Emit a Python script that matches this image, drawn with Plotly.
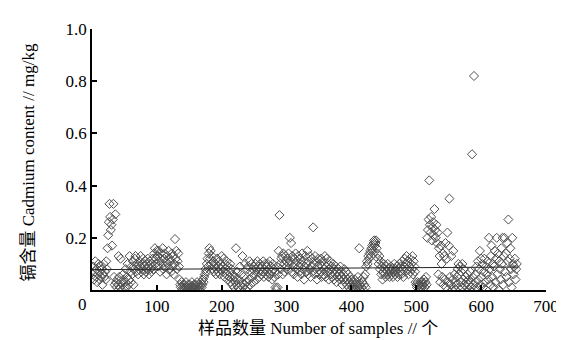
import plotly.graph_objects as go

# Cadmium content (mg/kg) per sample, samples 1..655
cd_001_050 = [0.06, 0.09, 0.04, 0.07, 0.11, 0.05, 0.08, 0.03, 0.06, 0.10,
              0.07, 0.04, 0.09, 0.05, 0.08, 0.02, 0.06, 0.10, 0.05, 0.07,
              0.04, 0.11, 0.08, 0.16, 0.21, 0.26, 0.33, 0.28, 0.23, 0.25,
              0.17, 0.27, 0.33, 0.05, 0.02, 0.29, 0.03, 0.01, 0.04, 0.02,
              0.13, 0.05, 0.01, 0.12, 0.03, 0.00, 0.02, 0.06, 0.04, 0.01]
cd_051_100 = [0.03, 0.08, 0.01, 0.05, 0.10, 0.02, 0.04, 0.13, 0.07, 0.03,
              0.09, 0.06, 0.11, 0.02, 0.08, 0.12, 0.13, 0.07, 0.10, 0.09,
              0.06, 0.08, 0.11, 0.09, 0.13, 0.07, 0.10, 0.08, 0.12, 0.06,
              0.09, 0.11, 0.07, 0.10, 0.08, 0.12, 0.09, 0.06, 0.11, 0.08,
              0.10, 0.07, 0.09, 0.12, 0.08, 0.14, 0.16, 0.10, 0.12, 0.15]
cd_101_150 = [0.13, 0.09, 0.15, 0.11, 0.07, 0.14, 0.12, 0.10, 0.16, 0.08,
              0.12, 0.14, 0.09, 0.11, 0.06, 0.13, 0.10, 0.15, 0.08, 0.12,
              0.11, 0.07, 0.14, 0.09, 0.13, 0.06, 0.10, 0.195, 0.12, 0.15,
              0.08, 0.11, 0.14, 0.09, 0.04, 0.02, 0.01, 0.03, 0.00, 0.02,
              0.01, 0.00, 0.02, 0.01, 0.03, 0.00, 0.01, 0.02, 0.00, 0.01]
cd_151_200 = [0.02, 0.00, 0.01, 0.03, 0.01, 0.00, 0.02, 0.01, 0.00, 0.02,
              0.01, 0.03, 0.00, 0.02, 0.01, 0.00, 0.02, 0.03, 0.01, 0.02,
              0.04, 0.03, 0.05, 0.06, 0.08, 0.07, 0.10, 0.12, 0.09, 0.14,
              0.16, 0.12, 0.15, 0.10, 0.13, 0.08, 0.11, 0.07, 0.09, 0.10,
              0.06, 0.08, 0.12, 0.07, 0.09, 0.11, 0.06, 0.10, 0.08, 0.13]
cd_201_250 = [0.09, 0.07, 0.12, 0.05, 0.10, 0.08, 0.06, 0.11, 0.04, 0.09,
              0.07, 0.05, 0.10, 0.03, 0.08, 0.02, 0.06, 0.04, 0.01, 0.05,
              0.03, 0.16, 0.02, 0.07, 0.01, 0.04, 0.00, 0.09, 0.02, 0.06,
              0.03, 0.13, 0.01, 0.05, 0.02, 0.10, 0.00, 0.03, 0.08, 0.01,
              0.09, 0.04, 0.11, 0.02, 0.07, 0.10, 0.05, 0.08, 0.03, 0.09]
cd_251_300 = [0.06, 0.10, 0.08, 0.04, 0.11, 0.07, 0.09, 0.05, 0.10, 0.08,
              0.06, 0.09, 0.07, 0.11, 0.05, 0.08, 0.10, 0.06, 0.09, 0.07,
              0.10, 0.05, 0.08, 0.11, 0.06, 0.09, 0.07, 0.04, 0.10, 0.08,
              0.05, 0.07, 0.01, 0.00, 0.09, 0.01, 0.06, 0.15, 0.287, 0.10,
              0.08, 0.12, 0.13, 0.06, 0.14, 0.10, 0.07, 0.13, 0.11, 0.09]
cd_301_350 = [0.12, 0.08, 0.14, 0.10, 0.20, 0.11, 0.18, 0.07, 0.13, 0.09,
              0.06, 0.12, 0.10, 0.14, 0.08, 0.11, 0.05, 0.13, 0.09, 0.07,
              0.12, 0.10, 0.06, 0.14, 0.08, 0.11, 0.04, 0.09, 0.13, 0.07,
              0.10, 0.15, 0.06, 0.11, 0.08, 0.13, 0.05, 0.09, 0.12, 0.07,
              0.24, 0.10, 0.06, 0.13, 0.08, 0.11, 0.04, 0.09, 0.12, 0.06]
cd_351_400 = [0.10, 0.07, 0.12, 0.05, 0.09, 0.11, 0.06, 0.08, 0.13, 0.05,
              0.09, 0.12, 0.07, 0.10, 0.04, 0.08, 0.11, 0.06, 0.09, 0.05,
              0.07, 0.10, 0.04, 0.08, 0.06, 0.09, 0.03, 0.07, 0.05, 0.08,
              0.06, 0.04, 0.09, 0.05, 0.07, 0.02, 0.06, 0.04, 0.08, 0.03,
              0.05, 0.07, 0.02, 0.04, 0.06, 0.01, 0.03, 0.05, 0.02, 0.04]
cd_401_450 = [0.01, 0.03, 0.00, 0.02, 0.04, 0.01, 0.00, 0.03, 0.02, 0.05,
              0.01, 0.16, 0.00, 0.02, 0.04, 0.01, 0.03, 0.00, 0.05, 0.02,
              0.06, 0.01, 0.09, 0.11, 0.10, 0.13, 0.12, 0.14, 0.15, 0.13,
              0.16, 0.17, 0.15, 0.18, 0.19, 0.17, 0.18, 0.19, 0.16, 0.14,
              0.12, 0.10, 0.13, 0.08, 0.11, 0.06, 0.09, 0.04, 0.07, 0.10]
cd_451_500 = [0.06, 0.08, 0.05, 0.09, 0.07, 0.10, 0.06, 0.08, 0.05, 0.07,
              0.09, 0.06, 0.08, 0.05, 0.07, 0.10, 0.06, 0.08, 0.07, 0.09,
              0.05, 0.08, 0.06, 0.10, 0.07, 0.09, 0.06, 0.11, 0.08, 0.05,
              0.09, 0.12, 0.07, 0.10, 0.13, 0.08, 0.11, 0.06, 0.09, 0.12,
              0.07, 0.10, 0.08, 0.13, 0.06, 0.11, 0.09, 0.07, 0.03, 0.02]
cd_501_550 = [0.01, 0.03, 0.02, 0.00, 0.02, 0.01, 0.03, 0.02, 0.01, 0.03,
              0.02, 0.04, 0.01, 0.03, 0.05, 0.02, 0.20, 0.23, 0.27, 0.42,
              0.25, 0.22, 0.28, 0.19, 0.24, 0.26, 0.21, 0.31, 0.23, 0.20,
              0.25, 0.18, 0.22, 0.06, 0.16, 0.13, 0.03, 0.17, 0.10, 0.05,
              0.14, 0.02, 0.13, 0.04, 0.18, 0.01, 0.12, 0.22, 0.03, 0.17]
cd_551_600 = [0.35, 0.05, 0.02, 0.13, 0.00, 0.04, 0.15, 0.01, 0.06, 0.03,
              0.00, 0.02, 0.05, 0.08, 0.10, 0.06, 0.09, 0.03, 0.07, 0.01,
              0.10, 0.04, 0.08, 0.02, 0.00, 0.05, 0.03, 0.01, 0.06, 0.02,
              0.04, 0.00, 0.07, 0.03, 0.01, 0.52, 0.05, 0.02, 0.82, 0.00,
              0.06, 0.03, 0.09, 0.01, 0.11, 0.04, 0.08, 0.15, 0.02, 0.12]
cd_601_655 = [0.05, 0.10, 0.01, 0.07, 0.12, 0.03, 0.09, 0.00, 0.06, 0.11,
              0.04, 0.20, 0.08, 0.02, 0.13, 0.17, 0.05, 0.10, 0.01, 0.09,
              0.15, 0.03, 0.12, 0.20, 0.06, 0.14, 0.00, 0.11, 0.08, 0.04,
              0.16, 0.10, 0.20, 0.02, 0.13, 0.20, 0.07, 0.14, 0.05, 0.18,
              0.11, 0.27, 0.03, 0.12, 0.16, 0.08, 0.01, 0.20, 0.10, 0.06,
              0.09, 0.12, 0.04, 0.08, 0.10]

cadmium = (cd_001_050 + cd_051_100 + cd_101_150 + cd_151_200 + cd_201_250 +
           cd_251_300 + cd_301_350 + cd_351_400 + cd_401_450 + cd_451_500 +
           cd_501_550 + cd_551_600 + cd_601_655)
sample_no = list(range(1, len(cadmium) + 1))

# Linear trend line endpoints
trend_x = [0, 657]
trend_y = [0.078, 0.088]

x_ticks = [100, 200, 300, 400, 500, 600, 700]
y_ticks = [0.2, 0.4, 0.6, 0.8, 1.0]
y_ticklabels = ["0.2", "0.4", "0.6", "0.8", "1.0"]

serif = "Liberation Serif, Times New Roman, Noto Sans CJK SC, serif"
tick_font = dict(family=serif, size=17, color="black")

fig = go.Figure()
fig.add_trace(go.Scatter(
    x=sample_no, y=cadmium, mode="markers",
    marker=dict(symbol="diamond-open", size=7, color="#505050", line=dict(width=1)),
    showlegend=False, hoverinfo="x+y"))
fig.add_trace(go.Scatter(
    x=trend_x, y=trend_y, mode="lines",
    line=dict(color="#222222", width=1), showlegend=False))

fig.update_layout(
    width=564, height=340,
    margin=dict(l=84, r=26, t=16, b=58),
    paper_bgcolor="white", plot_bgcolor="white",
    font=dict(family=serif, size=16, color="black"),
    xaxis=dict(range=[0, 700], tickvals=x_ticks, ticks="inside", ticklen=5,
               tickwidth=1.5, tickcolor="black", showline=True, linecolor="black",
               linewidth=1.5, showgrid=False, zeroline=False, tickfont=tick_font),
    yaxis=dict(range=[0, 1.0], tickvals=y_ticks, ticktext=y_ticklabels,
               ticks="inside", ticklen=5, tickwidth=1.5, tickcolor="black",
               showline=True, linecolor="black", linewidth=1.5, showgrid=False,
               zeroline=False, tickfont=tick_font),
    annotations=[
        dict(text="0", xref="paper", yref="paper", x=-0.022, y=-0.056,
             showarrow=False, xanchor="center", yanchor="middle", font=tick_font),
        dict(text="样品数量 Number of samples // 个", xref="paper", yref="paper",
             x=0.498, y=-0.148, showarrow=False, xanchor="center", yanchor="middle",
             font=dict(family=serif, size=17, color="black")),
        dict(text="镉含量 Cadmium content // mg/kg", xref="paper", yref="paper",
             x=-0.14, y=0.49, textangle=-90, showarrow=False,
             xanchor="center", yanchor="middle",
             font=dict(family=serif, size=17, color="black")),
    ],
)

fig.write_html("out.html")
